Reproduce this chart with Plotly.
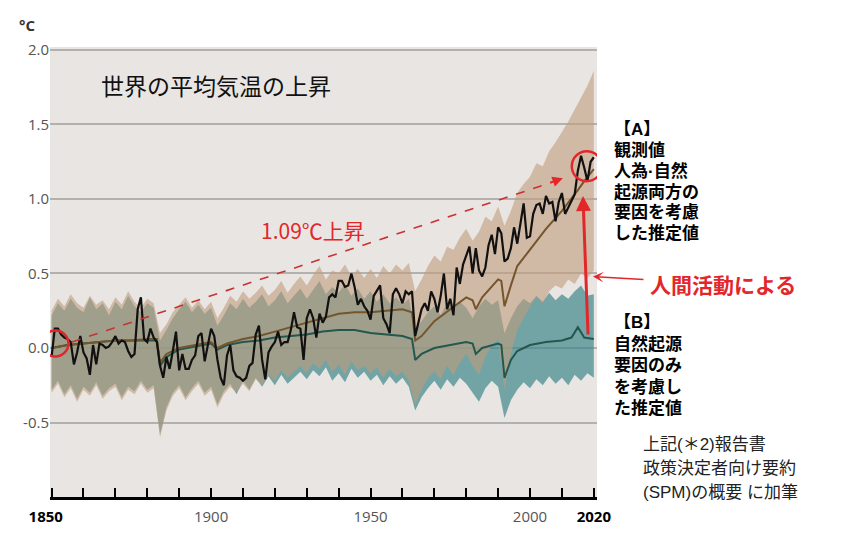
import plotly.graph_objects as go

# ---------------- data ----------------
years = list(range(1850, 2021))
observed = [
    -0.06, 0.13, 0.13, 0.09, 0.07, 0.06, 0.04, -0.11, -0.03, 0.08,
    -0.03, -0.07, -0.18, 0.02, -0.11, 0.03, 0.02, 0.00, 0.01, 0.04,
    0.08, 0.03, 0.05, 0.04, -0.02, -0.06, -0.04, 0.26, 0.34, 0.06,
    0.04, 0.13, 0.07, 0.04, -0.12, -0.20, -0.06, -0.14, -0.02, 0.11,
    -0.15, -0.04, -0.14, -0.14, -0.08, -0.05, 0.08, 0.10, -0.09, 0.01,
    0.13, 0.08, -0.08, -0.20, -0.25, -0.05, 0.02, -0.15, -0.19, -0.20,
    -0.22, -0.20, -0.12, -0.10, 0.09, 0.15, -0.08, -0.21, -0.03, 0.01,
    0.04, 0.11, 0.02, 0.04, 0.04, 0.12, 0.24, 0.14, 0.13, -0.08,
    0.20, 0.26, 0.20, 0.07, 0.23, 0.17, 0.21, 0.34, 0.36, 0.34,
    0.45, 0.45, 0.41, 0.42, 0.50, 0.41, 0.29, 0.33, 0.28, 0.25,
    0.19, 0.35, 0.39, 0.42, 0.20, 0.16, 0.10, 0.36, 0.40, 0.36,
    0.30, 0.38, 0.36, 0.38, 0.08, 0.18, 0.26, 0.30, 0.25, 0.38,
    0.33, 0.24, 0.35, 0.50, 0.26, 0.33, 0.22, 0.54, 0.43, 0.56,
    0.62, 0.68, 0.50, 0.67, 0.52, 0.48, 0.54, 0.69, 0.76, 0.63,
    0.81, 0.77, 0.58, 0.60, 0.67, 0.81, 0.70, 0.83, 0.97, 0.74,
    0.75, 0.90, 0.96, 0.97, 0.90, 1.02, 0.97, 0.98, 0.85, 0.98,
    1.04, 0.90, 0.94, 0.98, 1.03, 1.19, 1.29, 1.21, 1.12, 1.25,
    1.28,
]

median_years = [1850, 1855, 1860, 1865, 1870, 1875, 1880, 1883, 1884, 1886,
                1890, 1895, 1900, 1902, 1905, 1910, 1915, 1920, 1925, 1930,
                1935, 1940, 1945, 1950, 1955, 1960, 1963, 1964, 1966, 1970,
                1975, 1980, 1982, 1983, 1985, 1990, 1991, 1992, 1994, 1996,
                2000, 2005, 2010, 2013, 2015, 2017, 2020]
human_natural_median = [0.00, 0.02, 0.03, 0.04, 0.05, 0.05, 0.06, 0.06, -0.10, -0.04,
                        0.00, 0.02, 0.04, 0.00, 0.03, 0.06, 0.08, 0.11, 0.14, 0.17,
                        0.20, 0.23, 0.24, 0.24, 0.25, 0.26, 0.24, 0.05, 0.08, 0.18,
                        0.26, 0.34, 0.32, 0.26, 0.34, 0.46, 0.45, 0.28, 0.42, 0.55,
                        0.66, 0.80, 0.92, 1.00, 1.06, 1.12, 1.20]
natural_median = [0.00, 0.02, 0.03, 0.04, 0.05, 0.05, 0.05, 0.05, -0.12, -0.06,
                  -0.01, 0.01, 0.03, -0.01, 0.02, 0.04, 0.05, 0.07, 0.08, 0.09,
                  0.11, 0.12, 0.12, 0.10, 0.09, 0.08, 0.06, -0.08, -0.04, 0.00,
                  0.02, 0.04, 0.03, -0.04, 0.00, 0.03, 0.02, -0.20, -0.08, -0.02,
                  0.02, 0.04, 0.05, 0.07, 0.14, 0.07, 0.06]

band_years = list(range(1850, 2021, 2))
natural_hi = [0.22, 0.30, 0.25, 0.33, 0.27, 0.24, 0.34, 0.26, 0.30, 0.22,
              0.31, 0.26, 0.35, 0.28, 0.24, 0.30, 0.27, 0.05, 0.12, 0.20,
              0.26, 0.31, 0.24, 0.29, 0.23, 0.27, 0.15, 0.22, 0.30, 0.26,
              0.33, 0.27, 0.31, 0.36, 0.28, 0.32, 0.38, 0.30, 0.35, 0.40,
              0.33, 0.39, 0.45, 0.36, 0.41, 0.37, 0.43, 0.35, 0.40, 0.33,
              0.38, 0.31, 0.36, 0.30, 0.34, 0.29, 0.33, 0.12, 0.18, 0.24,
              0.28, 0.22, 0.30, 0.26, 0.31, 0.27, 0.20, 0.28, 0.33, 0.29,
              0.32, 0.10, 0.20, 0.28, 0.33, 0.30, 0.35, 0.31, 0.37, 0.32,
              0.36, 0.33, 0.38, 0.42, 0.35, 0.36]
natural_lo = [-0.28, -0.22, -0.31, -0.25, -0.34, -0.26, -0.30, -0.23, -0.32, -0.27,
              -0.24, -0.33, -0.26, -0.29, -0.22, -0.28, -0.25, -0.58, -0.40, -0.30,
              -0.25, -0.33, -0.27, -0.22, -0.30, -0.26, -0.38, -0.29, -0.24, -0.31,
              -0.22, -0.28, -0.20, -0.26, -0.19, -0.25, -0.18, -0.24, -0.20, -0.16,
              -0.21, -0.15, -0.19, -0.13, -0.22, -0.17, -0.23, -0.14, -0.20, -0.16,
              -0.22, -0.18, -0.25, -0.19, -0.24, -0.20, -0.26, -0.42, -0.33, -0.27,
              -0.22, -0.28, -0.21, -0.26, -0.20, -0.24, -0.30, -0.36, -0.27, -0.22,
              -0.26, -0.47, -0.35, -0.28, -0.23, -0.27, -0.21, -0.25, -0.19, -0.24,
              -0.20, -0.25, -0.18, -0.22, -0.17, -0.20]
human_natural_hi = [0.25, 0.33, 0.28, 0.36, 0.30, 0.27, 0.35, 0.29, 0.32, 0.26,
                    0.34, 0.29, 0.38, 0.31, 0.27, 0.33, 0.30, 0.10, 0.16, 0.24,
                    0.29, 0.34, 0.27, 0.32, 0.26, 0.31, 0.20, 0.27, 0.35, 0.31,
                    0.38, 0.33, 0.37, 0.42, 0.35, 0.39, 0.45, 0.37, 0.43, 0.48,
                    0.42, 0.49, 0.55, 0.46, 0.52, 0.50, 0.56, 0.48, 0.53, 0.47,
                    0.53, 0.47, 0.55, 0.50, 0.56, 0.52, 0.57, 0.38, 0.46, 0.55,
                    0.62, 0.58, 0.68, 0.66, 0.74, 0.80, 0.72, 0.78, 0.88, 0.85,
                    0.95, 0.82, 0.92, 1.04, 1.10, 1.15, 1.24, 1.22, 1.32, 1.38,
                    1.45, 1.52, 1.60, 1.68, 1.76, 1.86]
human_natural_lo = [-0.30, -0.24, -0.33, -0.27, -0.36, -0.28, -0.32, -0.25, -0.34, -0.29,
                    -0.26, -0.35, -0.28, -0.31, -0.24, -0.30, -0.27, -0.60, -0.42, -0.32,
                    -0.27, -0.35, -0.29, -0.24, -0.32, -0.28, -0.40, -0.31, -0.26, -0.30,
                    -0.24, -0.29, -0.21, -0.25, -0.18, -0.22, -0.15, -0.20, -0.16, -0.12,
                    -0.17, -0.10, -0.14, -0.08, -0.16, -0.11, -0.18, -0.09, -0.15, -0.12,
                    -0.17, -0.13, -0.20, -0.14, -0.19, -0.16, -0.22, -0.38, -0.28, -0.20,
                    -0.16, -0.21, -0.12, -0.18, -0.10, -0.04, -0.12, -0.18, -0.06, 0.02,
                    0.06, -0.28, -0.04, 0.12, 0.20, 0.28, 0.34, 0.30, 0.38, 0.42,
                    0.40, 0.46, 0.43, 0.50, 0.47, 0.52]

x_tick_vals = list(range(1850, 2021, 10))
x_tick_labels = {1850: "<b><span style='color:#000'>1850</span></b>&nbsp;&nbsp;&nbsp;",
                 1900: "1900", 1950: "1950", 2000: "2000",
                 2020: "<b><span style='color:#000'>2020</span></b>"}
y_tick_vals = [-0.5, 0.0, 0.5, 1.0, 1.5, 2.0]
y_tick_labels = ["-0.5", "0.0", "0.5", "1.0", "1.5", "2.0"]

# annotation anchor points (year, °C)
circle_points = [(1851.2, 0.03, 13), (2017.8, 1.22, 15)]
trend_start = (1856.4, 0.04)
trend_end = (2010.3, 1.14)
human_arrow_tail = (2018.2, 0.08)
human_arrow_head = (2016.6, 1.02)

JP = "Noto Sans CJK JP"
JP_TIGHT = "Liberation Sans, Noto Sans CJK JP"
RED = "#e3262a"

fig = go.Figure()

# natural-only band (teal)
fig.add_trace(go.Scatter(x=band_years, y=natural_lo, mode="lines", line=dict(width=0),
                         hoverinfo="skip", showlegend=False))
fig.add_trace(go.Scatter(x=band_years, y=natural_hi, mode="lines", line=dict(width=0),
                         fill="tonexty", fillcolor="rgba(58,133,136,0.68)",
                         hoverinfo="skip", showlegend=False))
# human + natural band (brown)
fig.add_trace(go.Scatter(x=band_years, y=human_natural_lo, mode="lines", line=dict(width=0),
                         hoverinfo="skip", showlegend=False))
fig.add_trace(go.Scatter(x=band_years, y=human_natural_hi, mode="lines", line=dict(width=0),
                         fill="tonexty", fillcolor="rgba(192,156,124,0.60)",
                         hoverinfo="skip", showlegend=False))
# medians
fig.add_trace(go.Scatter(x=median_years, y=natural_median, mode="lines",
                         line=dict(color="#24574e", width=2), showlegend=False))
fig.add_trace(go.Scatter(x=median_years, y=human_natural_median, mode="lines",
                         line=dict(color="#75552c", width=2), showlegend=False))
# observed
fig.add_trace(go.Scatter(x=years, y=observed, mode="lines",
                         line=dict(color="#111111", width=2.2), showlegend=False))

shapes = []
for cx, cy, r in circle_points:
    shapes.append(dict(type="circle", xref="x", yref="y", xsizemode="pixel", ysizemode="pixel",
                       xanchor=cx, yanchor=cy, x0=-r, x1=r, y0=-r, y1=r,
                       line=dict(color=RED, width=2.5)))
shapes.append(dict(type="line", xref="x", yref="y", x0=trend_start[0], y0=trend_start[1],
                   x1=trend_end[0] - 3, y1=trend_end[1] - 0.025,
                   line=dict(color="#c93232", width=1.6, dash="dash")))

annotations = [
    dict(x=trend_end[0], y=trend_end[1], xref="x", yref="y", ax=-14, ay=5, text="",
         showarrow=True, arrowhead=2, arrowsize=1.3, arrowwidth=1.6, arrowcolor=RED),
    dict(x=human_arrow_head[0], y=human_arrow_head[1], xref="x", yref="y",
         ax=human_arrow_tail[0], ay=human_arrow_tail[1], axref="x", ayref="y", text="",
         showarrow=True, arrowhead=2, arrowsize=1.0, arrowwidth=3, arrowcolor=RED),
]

# page pixel -> paper coordinates (plot panel spans page x 50..597, y 47..500)
def paper_x(px):
    return (px - 50) / 547

def paper_y(py):
    return (500 - py) / 453

def add_text(text, px, py, size, color="#111", xanchor="left", yanchor="middle",
             bold=False, family=JP):
    t = f"<b>{text}</b>" if bold else text
    annotations.append(dict(x=paper_x(px), y=paper_y(py), xref="paper", yref="paper",
                            text=t, showarrow=False, xanchor=xanchor, yanchor=yanchor,
                            align="left",
                            font=dict(family=family, size=size, color=color)))

add_text("°C", 27, 25, 15, color="#333", xanchor="center", bold=True, family="Open Sans")
add_text("世界の平均気温の上昇", 99, 85, 23, color="#111")
add_text("1.09℃上昇", 259, 231, 21, color=RED)

block_a = ["【A】", "観測値", "人為·自然", "起源両方の", "要因を考慮", "した推定値"]
block_a_y = [130, 151, 172, 193, 214, 235]
for t, py in zip(block_a, block_a_y):
    add_text(t, 612, py, 17, color="#000", bold=True, family=JP_TIGHT)

block_b = ["【B】", "自然起源", "要因のみ", "を考慮し", "た推定値"]
block_b_y = [324, 346, 368, 390, 411]
for t, py in zip(block_b, block_b_y):
    add_text(t, 612, py, 17, color="#000", bold=True, family=JP_TIGHT)

add_text("人間活動による", 648, 286, 21, color=RED, bold=True)
annotations.append(dict(x=paper_x(593), y=paper_y(278), xref="paper", yref="paper",
                        ax=52, ay=3, text="", showarrow=True, arrowhead=3, arrowsize=1.2,
                        arrowwidth=1.5, arrowcolor=RED))

note = ["上記(＊2)報告書", "政策決定者向け要約", "(SPM)の概要 に加筆"]
note_y = [447, 471, 495]
for t, py in zip(note, note_y):
    add_text(t, 641, py, 17, color="#222", family=JP_TIGHT)

# the page body adds an 8px offset, so the figure is drawn 8px smaller with margins shifted
fig.update_layout(
    width=835, height=530,
    margin=dict(l=42, r=246, t=39, b=38),
    paper_bgcolor="#ffffff",
    plot_bgcolor="#e8e5e3",
    shapes=shapes,
    annotations=annotations,
    showlegend=False,
    xaxis=dict(range=[1849.5, 2021], tickmode="array", tickvals=x_tick_vals,
               ticktext=[x_tick_labels.get(v, "") for v in x_tick_vals],
               ticks="inside", ticklen=9, tickwidth=2, tickcolor="#000",
               showline=True, linecolor="#000", linewidth=3, showgrid=False, zeroline=False,
               tickfont=dict(family="Open Sans", size=15, color="#555"),
               ticklabelstandoff=4),
    yaxis=dict(range=[-1.0, 2.02], tickmode="array", tickvals=y_tick_vals, ticktext=y_tick_labels,
               showgrid=True, gridcolor="#b3b1ae", gridwidth=1.5, zeroline=False,
               ticks="", showline=False,
               tickfont=dict(family="Open Sans", size=15, color="#555")),
)

fig.write_html("out.html")
